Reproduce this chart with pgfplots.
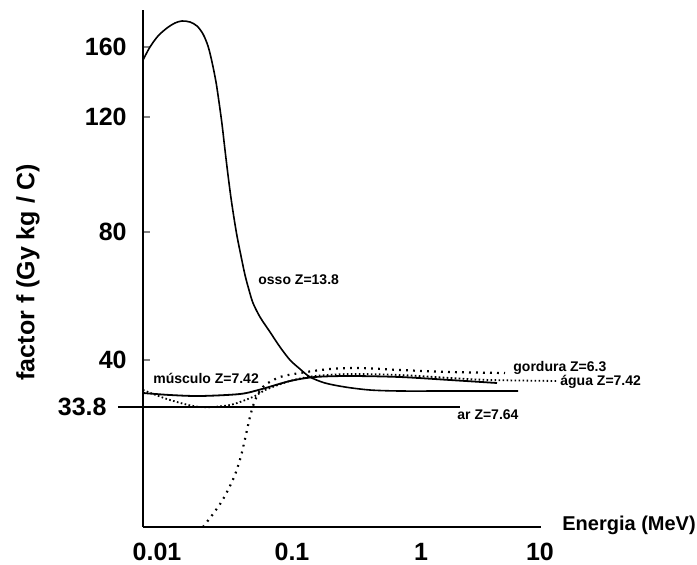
\documentclass[border=0pt]{standalone}
\usepackage{fontspec}
\setmainfont{Liberation Sans}
\usepackage{pgfplots}
\pgfplotsset{compat=1.18}

% coordinates are in the reference's pixel grid (1 px = 0.5pt), y measured upward
\begin{document}
\begin{tikzpicture}
\begin{axis}[
    scale only axis, width=199pt, height=258.5pt,
    xmin=143, xmax=541, ymin=37, ymax=554,
    axis lines=left,
    axis line style={-, line width=1.3pt},
    clip=false,
    tick align=inside, major tick length=3.5pt,
    xtick={157,292,421,540}, xticklabels={0.01,0.1,1,10},
    xtick style={draw=none},
    ytick={204,332,447,517}, yticklabels={40,80,120,160},
    ytick style={line width=0.8pt},
    extra y ticks={157}, extra y tick labels={33.8},
    extra y tick style={major tick length=0pt, yticklabel style={xshift=-10pt}},
    /pgf/number format/assume math mode=true,
    tick label style={font=\fontsize{12.5}{12.5}\selectfont\bfseries, inner sep=0pt},
    yticklabel style={xshift=-8pt},
    xticklabel style={yshift=-8pt},
]
% osso
\addplot[black, line width=0.8pt, smooth, tension=0.5] coordinates {
(143,504) (150,517) (158,528) (167,536) (175,541) (182,543) (190,542) (197,538)
(203,530) (208,518) (212,502) (216,482) (219,462) (222,440) (225,414) (228,389)
(231,366) (234,346) (237,328) (241,308) (245,289) (249,274) (253,261) (260,247)
(270,232) (280,217) (290,204) (300,195) (310,187) (325,181) (345,177) (370,174)
(400,173) (450,173) (518,173)
};
% musculo
\addplot[black, line width=0.9pt, smooth, tension=0.5] coordinates {
(143,171) (170,169) (200,168) (240,170) (262,175) (290,183) (315,187) (350,188)
(400,187) (450,184) (497,181)
};
% agua
\addplot[black, line width=0.9pt, dash pattern=on 0.8pt off 1.2pt, smooth, tension=0.5] coordinates {
(143,174) (170,164) (200,157) (230,159) (255,168) (265,174) (290,183) (315,188)
(350,190) (400,189) (450,186) (490,184) (557,183)
};
% gordura
\addplot[black, line width=1.1pt, dash pattern=on 0.9pt off 2.6pt, smooth, tension=0.5] coordinates {
(203,37) (213,50) (222,63) (230,78) (236,92) (241,108) (245,125) (249,143)
(253,158) (258,170) (265,179) (280,187) (300,191) (330,195) (360,196) (400,194)
(450,192) (505,191)
};
% ar
\addplot[black, line width=0.8pt] coordinates {(118,157) (460,157)};

\node[anchor=west, font=\fontsize{7}{7}\selectfont\bfseries, inner sep=0pt] at (axis cs:258,284) {osso Z=13.8};
\node[anchor=west, font=\fontsize{7}{7}\selectfont\bfseries, inner sep=0pt] at (axis cs:153,186) {músculo Z=7.42};
\node[anchor=west, font=\fontsize{7}{7}\selectfont\bfseries, inner sep=0pt] at (axis cs:513,196) {gordura Z=6.3};
\node[anchor=west, font=\fontsize{7}{7}\selectfont\bfseries, inner sep=0pt] at (axis cs:560,182) {água Z=7.42};
\node[anchor=west, font=\fontsize{7}{7}\selectfont\bfseries, inner sep=0pt] at (axis cs:457,149) {ar Z=7.64};
\node[anchor=west, font=\fontsize{10}{10}\selectfont\bfseries, inner sep=0pt] at (axis cs:562,39) {Energia (MeV)};
\node[rotate=90, font=\fontsize{12.5}{12.5}\selectfont\bfseries, inner sep=0pt] at (axis cs:28,292) {factor f (Gy kg / C)};

\coordinate (ll) at (axis cs:0,0);
\coordinate (ur) at (axis cs:697,564);
\end{axis}
\pgfresetboundingbox
\path[use as bounding box] (ll) rectangle (ur);
\end{tikzpicture}
\end{document}
